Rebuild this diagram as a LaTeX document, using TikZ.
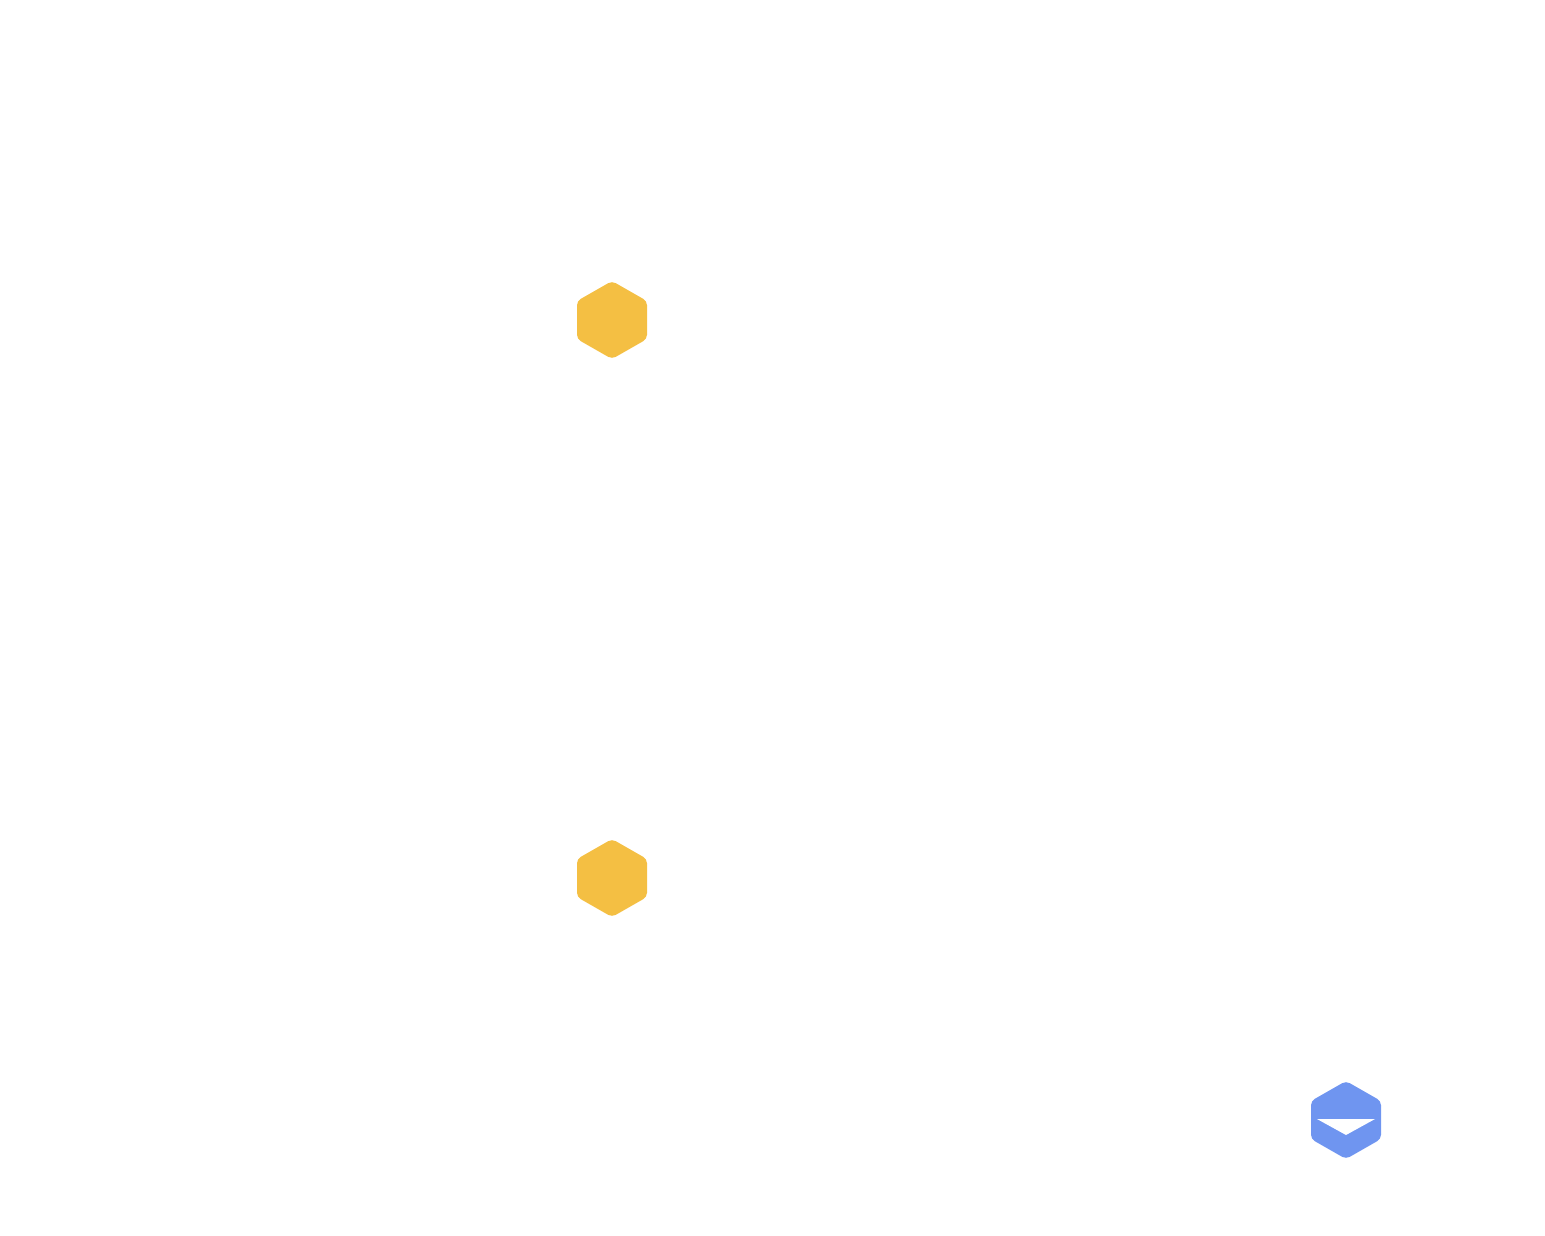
\documentclass[tikz,border=0pt]{standalone}
\begin{document}
\begin{tikzpicture}[x=0.01cm,y=-0.01cm]
\definecolor{hy}{HTML}{F4BF43}
\definecolor{hb}{HTML}{6F95F0}
\tikzset{hex/.style={rounded corners=1.2pt}}
\useasboundingbox (0,0) rectangle (1545,1236);
\newcommand\myhex[3]{\fill[hex,#3] (#1,#2-39) -- (#1+35,#2-19) -- (#1+35,#2+19) -- (#1,#2+39) -- (#1-35,#2+19) -- (#1-35,#2-19) -- cycle;}
\myhex{612}{320}{hy}
\myhex{612}{878}{hy}
\myhex{1346}{1120}{hb}
\fill[white] (1317,1119) -- (1375,1119) -- (1346,1135) -- cycle;
\end{tikzpicture}
\end{document}
